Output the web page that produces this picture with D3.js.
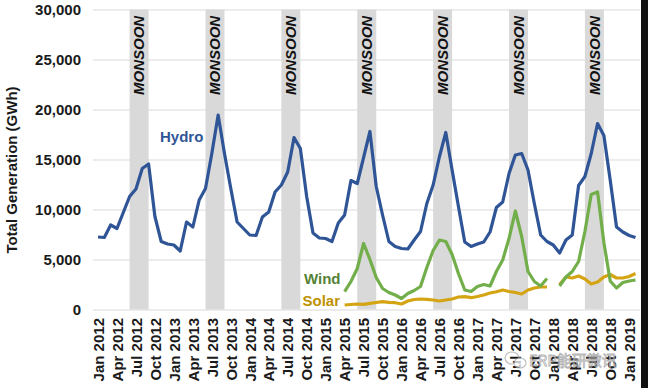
<!DOCTYPE html>
<html>
<head>
<meta charset="utf-8">
<script src="https://cdnjs.cloudflare.com/ajax/libs/d3/7.8.5/d3.min.js"></script>
<style>
  body { margin: 0; background: #fff; }
  svg { display: block; font-family: "Liberation Sans", Arial, sans-serif; }
</style>
</head>
<body>
<div class="chart"></div>
<script>
// month categories Jan 2012 .. Feb 2019
var monthNames = ["Jan", "Feb", "Mar", "Apr", "May", "Jun", "Jul", "Aug", "Sep", "Oct", "Nov", "Dec"];
var years = [2012, 2013, 2014, 2015, 2016, 2017, 2018, 2019];
var months = [];
years.forEach(function(yr) {
  monthNames.forEach(function(m) { months.push(m + " " + yr); });
});
months = months.slice(0, 86);

var tickLabels = months.filter(function(d, i) { return i % 3 === 0; });
var yTicks = [0, 5000, 10000, 15000, 20000, 25000, 30000];
var monsoonYears = [2012, 2013, 2014, 2015, 2016, 2017, 2018];

var hydro = [
  7250, 7200, 8450, 8100, 9700, 11300, 12050, 14100, 14550, 9300, 6800, 6550,
  6450, 5850, 8750, 8250, 10950, 12100, 15600, 19450, 15600, 12100, 8750, 8100,
  7450, 7400, 9250, 9750, 11750, 12450, 13750, 17200, 16100, 11300, 7650, 7150,
  7100, 6800, 8650, 9450, 12900, 12600, 15200, 17800, 12300, 9450, 6800, 6300,
  6100, 6050, 6950, 7800, 10600, 12450, 15300, 17700, 13950, 10300, 6750, 6300,
  6550, 6750, 7750, 10200, 10750, 13600, 15450, 15600, 13950, 10600, 7450, 6800,
  6450, 5650, 6950, 7450, 12400, 13300, 15600, 18600, 17400, 12950, 8250, 7750,
  7400, 7200
];

var wind = [
  null, null, null, null, null, null, null, null, null, null, null, null,
  null, null, null, null, null, null, null, null, null, null, null, null,
  null, null, null, null, null, null, null, null, null, null, null, null,
  null, null, null, 1780, 2800, 4100, 6600, 5000, 3200, 2100, 1700, 1450,
  1100, 1600, 1900, 2300, 4200, 5900, 6950, 6800, 5500, 3600, 1950, 1800,
  2300, 2500, 2350, 3800, 4950, 7100, 9850, 7300, 3800, 2800, 2350, 3100,
  null, 2350, 3250, 3800, 4800, 7800, 11500, 11750, 6700, 2850, 2150, 2700,
  2850, 2950
];

var solar = [
  null, null, null, null, null, null, null, null, null, null, null, null,
  null, null, null, null, null, null, null, null, null, null, null, null,
  null, null, null, null, null, null, null, null, null, null, null, null,
  null, null, null, 450, 500, 550, 520, 620, 700, 780, 720, 680,
  550, 850, 1000, 1050, 1020, 950, 850, 950, 1050, 1250, 1280, 1180,
  1300, 1450, 1650, 1780, 1950, 1800, 1700, 1550, 1950, 2150, 2250, 2250,
  null, 2500, 3250, 3150, 3350, 3050, 2550, 2750, 3250, 3500, 3150, 3150,
  3300, 3600
];

var width = 648, height = 388;

var svg = d3.select(".chart").append("svg")
  .attr("width", width)
  .attr("height", height);

var x = d3.scalePoint()
  .domain(months)
  .range([98, 635.5]);

var y = d3.scaleLinear()
  .domain([0, 30000])
  .range([309.5, 9.5]);

// monsoon bands
var bands = svg.append("g").attr("class", "monsoon");
monsoonYears.forEach(function(yr) {
  var x0 = x("Jun " + yr), x1 = x("Sep " + yr);
  bands.append("rect")
    .attr("x", x0)
    .attr("y", y(30000))
    .attr("width", x1 - x0)
    .attr("height", y(0) - y(30000))
    .attr("fill", "#d9d9d9");
  bands.append("text")
    .attr("transform", `translate(${(x0 + x1) / 2}, 95) rotate(-90)`)
    .attr("dy", "0.35em")
    .attr("font-size", 15)
    .attr("font-weight", "bold")
    .attr("font-style", "italic")
    .attr("fill", "#111")
    .text("MONSOON");
});

// y axis + gridlines
var yAxis = svg.append("g")
  .attr("transform", "translate(93,0)")
  .call(d3.axisLeft(y)
    .tickValues(yTicks)
    .tickSize(-547)
    .tickPadding(12)
    .tickFormat(d3.format(",")));
yAxis.select(".domain").remove();
yAxis.selectAll(".tick line").attr("stroke", "#d9d9d9").attr("stroke-width", 1);
yAxis.selectAll(".tick text")
  .attr("font-size", 15)
  .attr("font-weight", "bold")
  .attr("font-family", "Liberation Sans, Arial, sans-serif")
  .attr("fill", "#1a1a1a");
// keep band shading above gridlines like the original
bands.raise();

// x axis
var xAxis = svg.append("g")
  .attr("transform", `translate(0,${y(0)})`)
  .call(d3.axisBottom(x).tickValues(tickLabels).tickSize(0));
xAxis.select(".domain").remove();
xAxis.selectAll(".tick text")
  .attr("transform", "rotate(-90)")
  .attr("x", -8.5)
  .attr("y", 0)
  .attr("dy", "0.35em")
  .attr("text-anchor", "end")
  .attr("font-size", 15)
  .attr("font-weight", "bold")
  .attr("font-family", "Liberation Sans, Arial, sans-serif")
  .attr("fill", "#1a1a1a");

// axis title
svg.append("text")
  .attr("transform", "translate(17,170) rotate(-90)")
  .attr("text-anchor", "middle")
  .attr("font-size", 15)
  .attr("font-weight", "bold")
  .attr("fill", "#1a1a1a")
  .text("Total Generation (GWh)");

// series
var line = d3.line()
  .defined(function(d) { return d.v !== null; })
  .x(function(d) { return x(d.m); })
  .y(function(d) { return y(d.v); });

var series = [
  {name: "Solar", values: solar, color: "#d4a413"},
  {name: "Wind", values: wind, color: "#72ae4a"},
  {name: "Hydro", values: hydro, color: "#2f5597"}
];

series.forEach(function(s) {
  var pts = months.map(function(m, i) { return {m: m, v: s.values[i]}; });
  svg.append("path")
    .datum(pts)
    .attr("fill", "none")
    .attr("stroke", s.color)
    .attr("stroke-width", 3.2)
    .attr("stroke-linejoin", "round")
    .attr("d", line);
});

// series labels
var labels = [
  {text: "Hydro", x: 160, y: 141.5, color: "#2f5597"},
  {text: "Wind", x: 304, y: 283.5, color: "#548235"},
  {text: "Solar", x: 302.5, y: 305.5, color: "#bf9000"}
];
svg.selectAll(".lbl").data(labels).enter().append("text")
  .attr("class", "lbl")
  .attr("x", function(d) { return d.x; })
  .attr("y", function(d) { return d.y; })
  .attr("font-size", 15)
  .attr("font-weight", "bold")
  .attr("fill", function(d) { return d.color; })
  .text(function(d) { return d.text; });

// watermark
var wm = svg.append("g").attr("opacity", 0.75);
wm.append("ellipse").attr("cx", 512).attr("cy", 358).attr("rx", 7).attr("ry", 6)
  .attr("fill", "none").attr("stroke", "#aaa").attr("stroke-width", 1.2);
wm.append("ellipse").attr("cx", 520).attr("cy", 363).attr("rx", 6).attr("ry", 5)
  .attr("fill", "#fff").attr("stroke", "#aaa").attr("stroke-width", 1.2);
wm.append("text")
  .attr("x", 529).attr("y", 366)
  .attr("font-size", 15)
  .attr("font-family", "Noto Sans CJK SC, sans-serif")
  .attr("fill", "#fff")
  .attr("stroke", "#999")
  .attr("stroke-width", 0.8)
  .text("ERP能研微讯");

// dark edge on the right of the original picture
svg.append("rect")
  .attr("x", 641).attr("y", 0)
  .attr("width", 7).attr("height", height)
  .attr("fill", "#111");
</script>
</body>
</html>
